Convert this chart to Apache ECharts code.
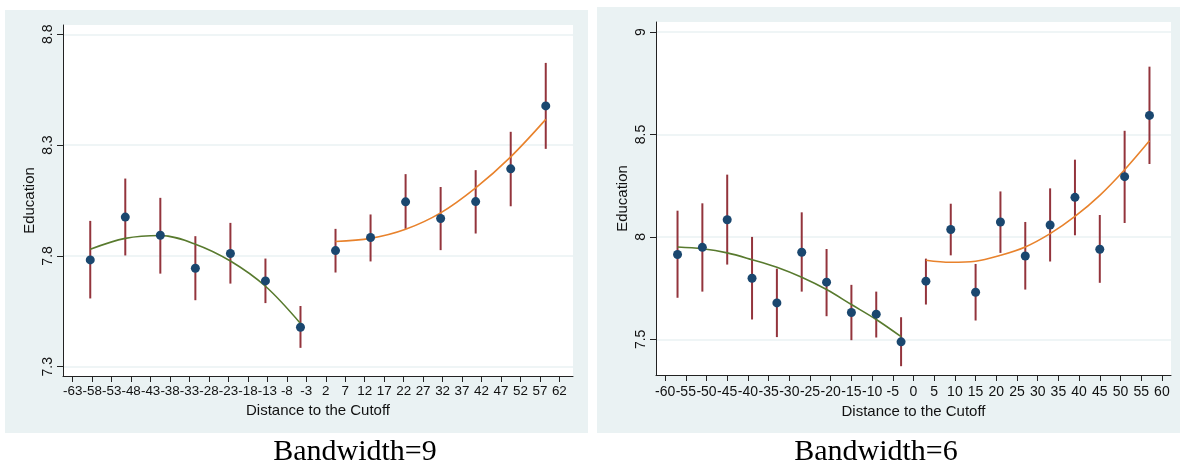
<!DOCTYPE html>
<html>
<head>
<meta charset="utf-8">
<script src="https://cdn.jsdelivr.net/npm/echarts@6/dist/echarts.min.js"></script>
<style>
  html, body { margin: 0; padding: 0; background: #fff; }
  #wrap { position: relative; width: 1180px; height: 473px; overflow: hidden; }
  .panel { position: absolute; background: #eaf2f3; }
  #chart { position: absolute; left: 0; top: 0; width: 1180px; height: 473px; }
</style>
</head>
<body>
<div id="wrap">
  <div class="panel" style="left:5px; top:10px; width:583px; height:423px;"></div>
  <div class="panel" style="left:597px; top:7px; width:583px; height:426px;"></div>
  <div id="chart"></div>
</div>
<script>
// ---- Bandwidth = 9: binned means with 95% intervals ----
const bw9Centers = [-58.5, -49.5, -40.5, -31.5, -22.5, -13.5, -4.5, 4.5, 13.5, 22.5, 31.5, 40.5, 49.5, 58.5];
const bw9Mean  = [7.782, 7.975, 7.893, 7.744, 7.811, 7.687, 7.478, 7.824, 7.883, 8.044, 7.969, 8.045, 8.193, 8.477];
const bw9Lower = [7.608, 7.802, 7.720, 7.600, 7.675, 7.587, 7.385, 7.725, 7.775, 7.922, 7.826, 7.901, 8.024, 8.283];
const bw9Upper = [7.958, 8.149, 8.062, 7.889, 7.949, 7.788, 7.574, 7.922, 7.987, 8.169, 8.111, 8.187, 8.360, 8.671];
// fitted polynomial, left and right of the cutoff
const bw9FitLeftX  = [-58.5, -49.5, -40.5, -31.5, -22.5, -13.5, -4.5];
const bw9FitLeft   = [7.830, 7.879, 7.892, 7.853, 7.777, 7.663, 7.495];
const bw9FitRightX = [4.5, 13.5, 22.5, 31.5, 40.5, 49.5, 58.5];
const bw9FitRight  = [7.865, 7.879, 7.920, 7.994, 8.107, 8.247, 8.416];
const bw9XTicks = [-63, -58, -53, -48, -43, -38, -33, -28, -23, -18, -13, -8, -3, 2, 7, 12, 17, 22, 27, 32, 37, 42, 47, 52, 57, 62];
const bw9YTicks = [7.3, 7.8, 8.3, 8.8];

// ---- Bandwidth = 6 ----
const bw6Centers = [-57, -51, -45, -39, -33, -27, -21, -15, -9, -3, 3, 9, 15, 21, 27, 33, 39, 45, 51, 57];
const bw6Mean  = [7.914, 7.949, 8.084, 7.798, 7.678, 7.925, 7.779, 7.631, 7.623, 7.488, 7.784, 8.036, 7.730, 8.073, 7.907, 8.058, 8.193, 7.940, 8.294, 8.593];
const bw6Lower = [7.703, 7.733, 7.865, 7.597, 7.511, 7.733, 7.613, 7.496, 7.509, 7.369, 7.670, 7.910, 7.592, 7.922, 7.743, 7.880, 8.008, 7.776, 8.068, 8.356];
const bw6Upper = [8.128, 8.164, 8.304, 8.000, 7.845, 8.120, 7.941, 7.766, 7.733, 7.608, 7.894, 8.162, 7.868, 8.222, 8.073, 8.237, 8.377, 8.107, 8.518, 8.831];
const bw6FitLeftX  = [-57, -51, -45, -39, -33, -27, -21, -15, -9, -3];
const bw6FitLeft   = [7.951, 7.942, 7.922, 7.889, 7.852, 7.803, 7.743, 7.670, 7.597, 7.513];
const bw6FitRightX = [3, 9, 15, 21, 27, 33, 39, 45, 51, 57];
const bw6FitRight  = [7.886, 7.876, 7.881, 7.910, 7.951, 8.016, 8.100, 8.203, 8.328, 8.469];
const bw6XTicks = [-60, -55, -50, -45, -40, -35, -30, -25, -20, -15, -10, -5, 0, 5, 10, 15, 20, 25, 30, 35, 40, 45, 50, 55, 60];
const bw6YTicks = [7.5, 8, 8.5, 9];

const captions = ['Bandwidth=9', 'Bandwidth=6'];

const C_DOT = '#1a476f', C_BAR = '#93343c', C_LEFT = '#587a2e', C_RIGHT = '#e8822c';
const C_GRID = '#eaf2f3', C_AXIS = '#222';
const FONT = 'Liberation Sans, Arial, sans-serif';

const zip = (a, b) => a.map((v, i) => [v, b[i]]);
const bars = (x, lo, hi) => x.map((v, i) => [v, lo[i], hi[i]]);

function xAxisFor(idx, min, max, ticks, gap, margin, labelSize) {
  return {
    type: 'value', gridIndex: idx, min: min, max: max,
    name: 'Distance to the Cutoff', nameLocation: 'middle', nameGap: gap,
    nameTextStyle: { fontFamily: FONT, fontSize: 15, color: '#111' },
    axisLine: { show: true, onZero: false, lineStyle: { color: C_AXIS, width: 1 } },
    axisTick: { show: true, length: 6, lineStyle: { color: C_AXIS }, customValues: ticks },
    axisLabel: { customValues: ticks, margin: margin, fontFamily: FONT, fontSize: labelSize, color: '#111',
                 hideOverlap: false, showMinLabel: true, showMaxLabel: true },
    splitLine: { show: false }
  };
}
function yAxisFor(idx, min, max, ticks) {
  return {
    type: 'value', gridIndex: idx, min: min, max: max,
    name: 'Education', nameLocation: 'middle', nameGap: 26,
    nameTextStyle: { fontFamily: FONT, fontSize: 15, color: '#111' },
    axisLine: { show: true, onZero: false, lineStyle: { color: C_AXIS, width: 1 } },
    axisTick: { show: true, length: 6, lineStyle: { color: C_AXIS }, customValues: ticks },
    axisLabel: { customValues: ticks, rotate: 90, margin: 8, fontFamily: FONT, fontSize: 14, color: '#111',
                 showMinLabel: true, showMaxLabel: true },
    splitLine: { show: true, lineStyle: { color: C_GRID, width: 1.5 } }
  };
}
function barSeries(idx, data) {
  return {
    type: 'custom', xAxisIndex: idx, yAxisIndex: idx, data: data,
    encode: { x: 0, y: [1, 2] }, z: 2,
    renderItem: function (params, api) {
      const p1 = api.coord([api.value(0), api.value(1)]);
      const p2 = api.coord([api.value(0), api.value(2)]);
      return { type: 'line', shape: { x1: p1[0], y1: p1[1], x2: p2[0], y2: p2[1] },
               style: { stroke: C_BAR, lineWidth: 2 } };
    }
  };
}
function fitSeries(idx, data, color) {
  return { type: 'line', xAxisIndex: idx, yAxisIndex: idx, data: data, smooth: 0.35,
           showSymbol: false, z: 3, lineStyle: { color: color, width: 1.6 } };
}
function dotSeries(idx, data) {
  return { type: 'scatter', xAxisIndex: idx, yAxisIndex: idx, data: data, symbolSize: 9, z: 4,
           itemStyle: { color: C_DOT, opacity: 1 } };
}

const chart = echarts.init(document.getElementById('chart'), null, { renderer: 'canvas' });
chart.setOption({
  animation: false,
  backgroundColor: 'transparent',
  grid: [
    { left: 63, top: 25, width: 510, height: 351, show: true, backgroundColor: '#fff', borderWidth: 0 },
    { left: 656, top: 22, width: 515, height: 353, show: true, backgroundColor: '#fff', borderWidth: 0 }
  ],
  xAxis: [
    xAxisFor(0, -65.5, 65.5, bw9XTicks, 24, 9, 13.4),
    xAxisFor(1, -62.2, 62.2, bw6XTicks, 25, 10, 14)
  ],
  yAxis: [
    yAxisFor(0, 7.258, 8.842, bw9YTicks),
    yAxisFor(1, 7.326, 9.049, bw6YTicks)
  ],
  graphic: [
    { type: 'text', x: 355, y: 467, style: { text: captions[0], font: '30px "Liberation Serif", "Times New Roman", serif', fill: '#000', textAlign: 'center', textVerticalAlign: 'bottom' } },
    { type: 'text', x: 876, y: 467, style: { text: captions[1], font: '30px "Liberation Serif", "Times New Roman", serif', fill: '#000', textAlign: 'center', textVerticalAlign: 'bottom' } }
  ],
  series: [
    barSeries(0, bars(bw9Centers, bw9Lower, bw9Upper)),
    fitSeries(0, zip(bw9FitLeftX, bw9FitLeft), C_LEFT),
    fitSeries(0, zip(bw9FitRightX, bw9FitRight), C_RIGHT),
    dotSeries(0, zip(bw9Centers, bw9Mean)),
    barSeries(1, bars(bw6Centers, bw6Lower, bw6Upper)),
    fitSeries(1, zip(bw6FitLeftX, bw6FitLeft), C_LEFT),
    fitSeries(1, zip(bw6FitRightX, bw6FitRight), C_RIGHT),
    dotSeries(1, zip(bw6Centers, bw6Mean))
  ]
});
</script>
</body>
</html>
